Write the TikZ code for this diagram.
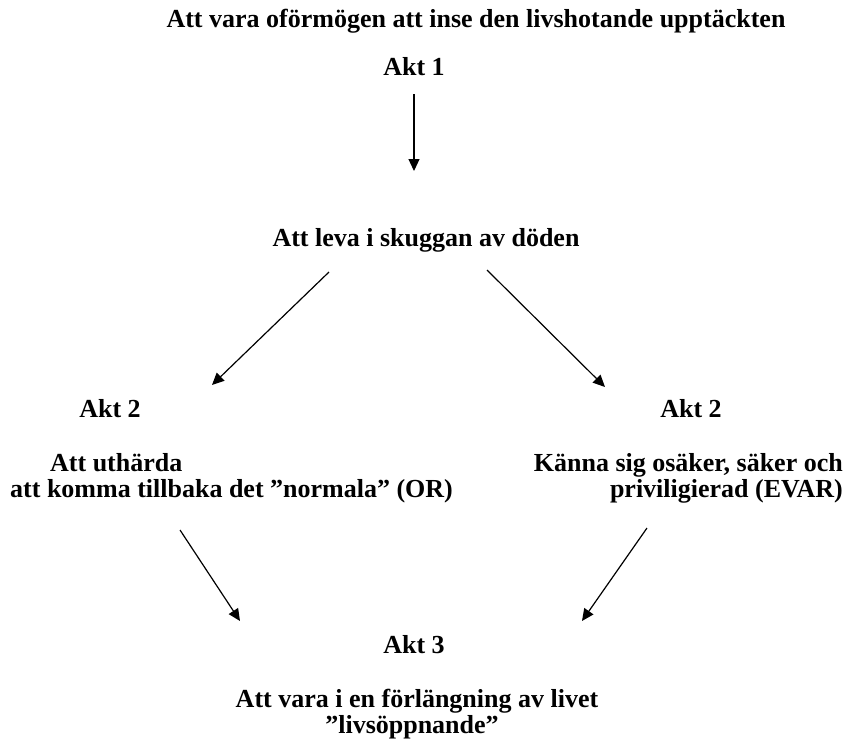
\documentclass[tikz,border=0pt]{standalone}
\usepackage{fontspec}
\setmainfont{Liberation Serif}
\usetikzlibrary{arrows.meta}
\begin{document}
\begin{tikzpicture}[x=1pt,y=-1pt,
  lbl/.style={inner sep=0pt,anchor=base,font=\fontsize{26}{30}\selectfont\bfseries},
  conn/.style={line width=1.2pt,-{Triangle[length=12pt,width=11pt]}}]
\useasboundingbox (0,0) rectangle (849,745);
\node[lbl] (title) at (476,27) {Att vara oförmögen att inse den livshotande upptäckten};
\node[lbl] (akt1) at (414,75) {Akt 1};
\node[lbl] (leva) at (426,246) {Att leva i skuggan av döden};
\node[lbl] (akt2l) at (110,417) {Akt 2};
\node[lbl] (akt2r) at (691,417) {Akt 2};
\node[lbl,anchor=base west] (orA) at (50,471) {Att uthärda};
\node[lbl,anchor=base west] (orB) at (10,497) {att komma tillbaka det ”normala” (OR)};
\node[lbl,anchor=base east] (evA) at (843,471) {Känna sig osäker, säker och};
\node[lbl,anchor=base east] (evB) at (843,497) {priviligierad (EVAR)};
\node[lbl] (akt3) at (414,653) {Akt 3};
\node[lbl] (livet) at (417,707) {Att vara i en förlängning av livet};
\node[lbl] (livs) at (412,733) {”livsöppnande”};
\coordinate (a1s) at (414,94);
\coordinate (a1e) at (414,171);
\coordinate (a2s) at (329,272);
\coordinate (a2e) at (212,385);
\coordinate (a3s) at (487,270);
\coordinate (a3e) at (605,387);
\coordinate (a4s) at (180,530);
\coordinate (a4e) at (240,621);
\coordinate (a5s) at (647,528);
\coordinate (a5e) at (582,621);
\draw[conn] (a1s) -- (a1e);
\draw[conn] (a2s) -- (a2e);
\draw[conn] (a3s) -- (a3e);
\draw[conn] (a4s) -- (a4e);
\draw[conn] (a5s) -- (a5e);
\end{tikzpicture}
\end{document}
